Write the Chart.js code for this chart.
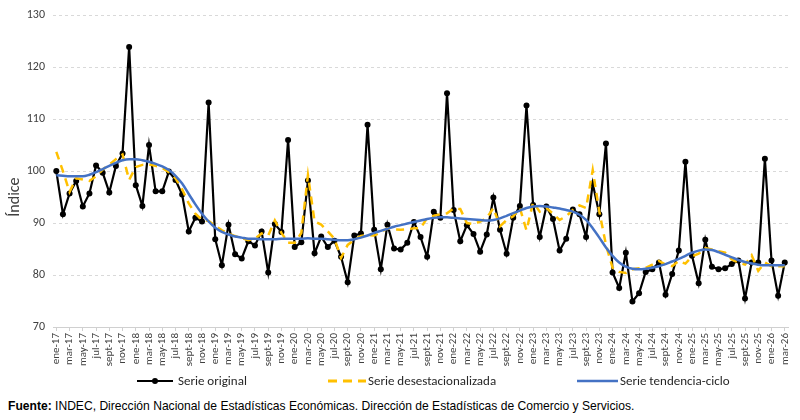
<!DOCTYPE html>
<html>
<head>
<meta charset="utf-8">
<script src="https://cdn.jsdelivr.net/npm/chart.js@4/dist/chart.umd.min.js"></script>
<style>
  html, body { margin: 0; padding: 0; background: #ffffff; }
  #wrap { position: relative; width: 800px; height: 420px; overflow: hidden; background: #fff; }
  #c { position: absolute; left: 0; top: 0; }
  .lg { position: absolute; font-family: Carlito, Lato, sans-serif; font-size: 13px; color: #262626; line-height: 16px; white-space: nowrap; }
  .sym { position: absolute; }
  #src { position: absolute; left: 8px; top: 399px; font-family: "Liberation Sans", Arial, sans-serif; font-size: 12.1px; color: #000; white-space: nowrap; }
</style>
</head>
<body>
<div id="wrap">
  <canvas id="c" width="800" height="375"></canvas>
  <svg class="sym" style="left:137px;top:374px" width="36" height="14"><line x1="0" y1="7" x2="36" y2="7" stroke="#000" stroke-width="2"/><circle cx="18" cy="7" r="3" fill="#000"/></svg>
  <div class="lg" style="left:178px;top:373px">Serie original</div>
  <svg class="sym" style="left:328px;top:374px" width="38" height="14"><line x1="0" y1="7" x2="38" y2="7" stroke="#FFC000" stroke-width="3" stroke-dasharray="9,6"/></svg>
  <div class="lg" style="left:368px;top:373px">Serie desestacionalizada</div>
  <svg class="sym" style="left:577px;top:374px" width="41" height="14"><line x1="0" y1="7" x2="41" y2="7" stroke="#4472C4" stroke-width="2.5"/></svg>
  <div class="lg" style="left:620px;top:373px">Serie tendencia-ciclo</div>
  <div id="src"><b>Fuente:</b> INDEC, Dirección Nacional de Estadísticas Económicas. Dirección de Estadísticas de Comercio y Servicios.</div>
</div>
<script>
const monthNames = ['ene','feb','mar','abr','may','jun','jul','ago','sept','oct','nov','dic'];
const years = ['17','18','19','20','21','22','23','24','25','26'];
const categories = [];
years.forEach(function (y) { monthNames.forEach(function (m) { categories.push(m + '-' + y); }); });
categories.length = 111; // ene-17 .. mar-26

const yTicks = [70, 80, 90, 100, 110, 120, 130];
const yTitle = 'Índice';

const serieOriginal = [
  100, 91.7, 95.7, 98.1, 93.2, 95.7, 101.1, 99.7, 95.9, 101,
  103.4, 123.9, 97.3, 93.3, 105, 96.1, 96.1, 99.9, 98.3, 95.5,
  88.4, 91, 90.3, 113.2, 86.9, 81.9, 89.7, 84, 83.2, 86.5,
  85.7, 88.4, 80.5, 89.8, 88.3, 106, 85.4, 86.3, 98.2, 84.2,
  87.4, 85.4, 86.6, 83.5, 78.6, 87.6, 88, 108.9, 88.7, 81.1,
  89.7, 85.1, 84.9, 86.2, 90.2, 87.3, 83.5, 92.2, 91, 115,
  92.5, 86.5, 89.6, 87.9, 84.5, 87.8, 94.9, 88.7, 84.1, 91,
  93.3, 112.6, 93.5, 87.3, 93.2, 90.8, 84.7, 87, 92.6, 91.7,
  87.3, 97.6, 91.7, 105.3, 80.5, 77.5, 84.3, 74.9, 76.5, 80.6,
  81.1, 82.4, 76.2, 80.2, 84.7, 101.8, 83.7, 78.4, 86.8, 81.6,
  81.1, 81.3, 82.1, 82.8, 75.5, 82.4, 82.4, 102.4, 82.8, 76,
  82.4
];

const serieDesest = [
  103.7, 100, 96, 98.6, 98.4, 98.1, 99, 100.3, 101.2, 102.3,
  103.2, 98.3, 100.8, 101.2, 101.3, 101, 100.6, 99.8, 98.6, 96.5,
  93.8, 91.8, 90.6, 90.4, 89.5, 88.6, 88, 87.5, 87.1, 86.7,
  87, 88, 87.6, 90.5, 88.1, 86.2, 86.2, 88.1, 99.2, 90.3,
  89.7, 88.4, 87, 83.3, 85.8, 86.8, 87.5, 87.7, 87.6, 88.2,
  89, 88.8, 88.7, 88.8, 89, 89, 91, 91.4, 91.7, 91.9,
  92.8, 92.7, 90, 89.8, 90.3, 91, 92.9, 89.4, 90.6, 91.3,
  92.9, 88.6, 94, 92.2, 92.9, 91.8, 90.6, 91.3, 92.5, 93.4,
  92.9, 100.2, 92.2, 85.8, 81.4, 80.6, 80.4, 81.1, 81.3, 81.4,
  82, 82.7, 82, 81.7, 82.7, 82.2, 83.6, 84.1, 85.2, 84.9,
  84.6, 84.3, 83, 82.4, 82, 83.8, 80.8, 82.4, 81.7, 81.7,
  81.7
];

const serieTendencia = [
  99.2, 99.1, 99.0, 99.0, 99.0, 99.3, 99.8, 100.4, 101.0, 101.6,
  102.1, 102.3, 102.3, 102.1, 101.8, 101.4, 100.9, 100.2, 99.1, 97.6,
  95.6, 93.6, 91.8, 90.3, 89.1, 88.3, 87.8, 87.4, 87.2, 87.0,
  87.0, 86.9, 86.9, 86.9, 87.0, 87.0, 87.0, 87.0, 87.1, 87.0,
  87.0, 86.9, 86.8, 86.7, 86.7, 86.9, 87.2, 87.6, 88.1, 88.5,
  88.9, 89.3, 89.6, 89.9, 90.2, 90.5, 90.8, 91.0, 91.1, 91.1,
  91.0, 90.9, 90.8, 90.7, 90.6, 90.5, 90.6, 90.9, 91.4, 91.9,
  92.4, 92.9, 93.2, 93.3, 93.2, 93.0, 92.8, 92.5, 92.2, 91.6,
  90.6, 89.0, 87.2, 85.3, 83.7, 82.4, 81.6, 81.2, 81.1, 81.2,
  81.4, 81.7, 82.1, 82.6, 83.1, 83.7, 84.3, 84.7, 84.9, 84.8,
  84.4, 83.9, 83.4, 82.9, 82.5, 82.2, 82.0, 81.9, 81.9, 81.9,
  81.9
];

const tickFont = { family: 'Carlito, Lato, sans-serif', size: 11 };

const yTitlePlugin = {
  id: 'yTitlePlugin',
  afterDraw: function (chart) {
    const ctx = chart.ctx;
    const y = chart.scales.y;
    ctx.save();
    ctx.translate(15, y.getPixelForValue(95));
    ctx.rotate(-Math.PI / 2);
    ctx.font = '16px Carlito, Lato, sans-serif';
    ctx.fillStyle = '#404040';
    ctx.textAlign = 'center';
    ctx.textBaseline = 'middle';
    ctx.fillText(yTitle, 0, 0);
    ctx.restore();
  }
};

new Chart(document.getElementById('c'), {
  type: 'line',
  data: {
    labels: categories,
    datasets: [
      { label: 'Serie original', data: serieOriginal, borderColor: '#000000', backgroundColor: '#000000',
        borderWidth: 2.2, pointRadius: 3, pointHoverRadius: 3, pointBackgroundColor: '#000000', pointBorderWidth: 0,
        tension: 0, order: 3 },
      { label: 'Serie desestacionalizada', data: serieDesest, borderColor: '#FFC000', backgroundColor: '#FFC000',
        borderWidth: 2.5, borderDash: [8, 6], pointRadius: 0, tension: 0, order: 2 },
      { label: 'Serie tendencia-ciclo', data: serieTendencia, borderColor: '#4472C4', backgroundColor: '#4472C4',
        borderWidth: 2.5, pointRadius: 0, cubicInterpolationMode: 'monotone', order: 1 }
    ]
  },
  plugins: [yTitlePlugin],
  options: {
    responsive: false,
    animation: false,
    devicePixelRatio: 1,
    layout: { padding: { left: 0, right: 10, top: 12, bottom: 0 } },
    plugins: { legend: { display: false }, tooltip: { enabled: false } },
    scales: {
      x: {
        type: 'category',
        offset: true,
        afterFit: function (s) { s.height = 48; },
        ticks: {
          autoSkip: false, maxRotation: 90, minRotation: 90, padding: 2,
          color: '#404040', font: tickFont,
          callback: function (v, i) { return i % 2 === 0 ? categories[i] : ''; }
        },
        grid: {
          drawOnChartArea: false, drawTicks: true, tickLength: 4,
          color: function (ctx) { return ctx.index % 2 === 0 ? '#d0d0d0' : 'rgba(0,0,0,0)'; }
        },
        border: { display: true, color: '#d0d0d0', width: 1 }
      },
      y: {
        min: 70, max: 130,
        afterFit: function (s) { s.width = 53; },
        afterBuildTicks: function (s) { s.ticks = yTicks.map(function (v) { return { value: v }; }); },
        ticks: { color: '#404040', font: { family: 'Carlito, Lato, sans-serif', size: 12 }, padding: 8 },
        grid: { color: '#d9d9d9', lineWidth: 1, drawTicks: false },
        border: { display: false, dash: [3, 3] },
        title: { display: false }
      }
    }
  }
});
</script>
</body>
</html>
